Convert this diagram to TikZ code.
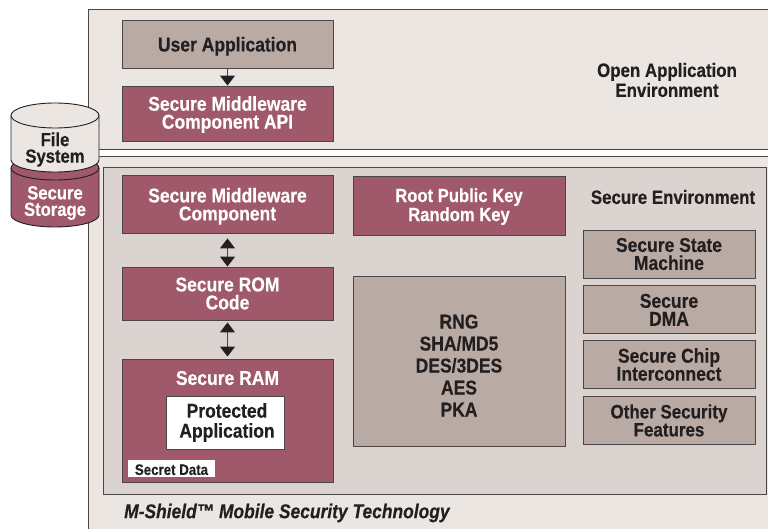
\documentclass[tikz,border=0pt]{standalone}
\usepackage{fontspec}
\setmainfont[FakeStretch=0.875,BoldFeatures={FakeBold=0.35},BoldItalicFeatures={FakeBold=0.35}]{Liberation Sans}
\usepackage{xcolor}
\usetikzlibrary{arrows.meta}
\definecolor{maroon}{HTML}{A0586B}
\definecolor{taupe}{HTML}{B9ABA4}
\definecolor{panel}{HTML}{ECE6E3}
\definecolor{inner}{HTML}{DBD3CF}
\definecolor{ink}{HTML}{231F20}
\definecolor{edge}{HTML}{4A4546}
\newcommand{\labelfont}[1]{\bfseries\fontsize{20}{#1}\selectfont}
\newcommand{\nudge}[1]{\rule{0pt}{#1pt}}
\tikzset{
    block/.style = {align=center, inner sep=0pt, draw=edge, line width=0.9pt, font=\labelfont{18}},
    redblock/.style = {block, fill=maroon, text=white},
    greyblock/.style = {block, fill=taupe, text=ink},
    sheet/.style = {draw=edge, line width=0.9pt, inner sep=0pt},
    caption/.style = {align=center, inner sep=0pt, text=ink, font=\bfseries\fontsize{19.3}{20}\selectfont},
    drum/.style = {draw=ink, line width=0.9pt},
    drumtext/.style = {align=center, inner sep=0pt, font=\bfseries\fontsize{19}{16.5}\selectfont},
    link/.style = {draw=edge, line width=1.4pt}
}
\begin{document}
\begin{tikzpicture}[x=1pt,y=-1pt,>={Triangle[width=15pt,length=10pt,color=ink]}]
    \useasboundingbox (0,0) rectangle (768,529);
    % panels
    \node [sheet, fill=panel, minimum width=682pt, minimum height=140pt] (open) at (429,79.5) {};
    \node [sheet, fill=panel, minimum width=682pt, minimum height=375pt] (lower) at (429,343.5) {};
    \node [sheet, fill=inner, minimum width=663pt, minimum height=327pt] (secure) at (434.5,330.5) {};
    % open side
    \node [greyblock, minimum width=211pt, minimum height=48pt] (user) at (227.5,44) {\nudge{19}User Application};
    \node [redblock, minimum width=211pt, minimum height=55pt] (api) at (227.5,113.5) {\nudge{16.5}Secure Middleware\\Component API};
    \node [caption] (opentitle) at (667,80) {Open Application\\Environment};
    % left column
    \node [redblock, minimum width=211pt, minimum height=58pt] (middle) at (227.5,204) {\nudge{19}Secure Middleware\\Component};
    \node [redblock, minimum width=211pt, minimum height=53pt] (rom) at (227.5,293.5) {Secure ROM\\Code};
    \node [redblock, minimum width=211pt, minimum height=123pt] (ram) at (227.5,420.5) {};
    \node [inner sep=0pt, text=white, font=\labelfont{18}] (ramtitle) at (227.5,378) {Secure RAM};
    \node [block, fill=white, text=ink, minimum width=118pt, minimum height=53pt, font=\labelfont{20}] (prot) at (225,422.5) {\hspace*{4pt}Protected\\\hspace*{4pt}Application};
    \node [fill=white, text=ink, inner sep=0pt, minimum width=87pt, minimum height=17pt, font=\bfseries\fontsize{15.2}{15}\selectfont] (secret) at (171.5,468.5) {\nudge{13}Secret Data};
    % middle column
    \node [redblock, minimum width=212pt, minimum height=59pt, font=\bfseries\fontsize{19}{19}\selectfont] (root) at (459,205.5) {\nudge{16}Root Public Key\\Random Key};
    \node [greyblock, minimum width=212pt, minimum height=170pt, font=\labelfont{22}] (algo) at (459,361) {\nudge{23}RNG\\SHA/MD5\\DES/3DES\\AES\\PKA};
    % right column
    \node [caption] (sectitle) at (673,197) {Secure Environment};
    \node [greyblock, minimum width=172pt, minimum height=48pt] (state) at (669,254) {Secure State\\Machine};
    \node [greyblock, minimum width=172pt, minimum height=48pt] (dma) at (669,309) {\nudge{15.5}Secure\\DMA};
    \node [greyblock, minimum width=172pt, minimum height=48pt] (chip) at (669,364) {\nudge{15.5}Secure Chip\\Interconnect};
    \node [greyblock, minimum width=172pt, font=\bfseries\fontsize{19.4}{18}\selectfont, minimum height=48pt] (other) at (669,420) {\nudge{15}Other Security\\Features};
    % storage
    \draw [drum, fill=maroon] (11,168) -- (11,215) arc [start angle=180, end angle=360, x radius=44pt, y radius=12pt] -- (99,168) arc [start angle=0, end angle=180, x radius=44pt, y radius=12pt] -- cycle;
    \draw [drum] (11,168) arc [start angle=180, end angle=360, x radius=44pt, y radius=12pt];
    \draw [drum, fill=panel] (11,160) -- (11,115.5) arc [start angle=180, end angle=0, x radius=44pt, y radius=12.5pt] -- (99,160) arc [start angle=0, end angle=-180, x radius=44pt, y radius=12pt] -- cycle;
    \draw [drum] (11,115.5) arc [start angle=180, end angle=360, x radius=44pt, y radius=12.5pt];
    \node [drumtext, text=ink] (filetext) at (55,149.5) {File\\System};
    \node [drumtext, text=white] (storetext) at (55,203) {Secure\\Storage};
    \node [anchor=west, inner sep=0pt, text=ink, font=\bfseries\itshape\fontsize{19.9}{20}\selectfont] (brand) at (124,513) {M-Shield\texttrademark{} Mobile Security Technology};
    % arrows
    \draw [->, link] (user) -- (api);
    \draw [<->, link, shorten <=5pt] (middle) -- (rom);
    \draw [<->, link, shorten <=2pt, shorten >=2pt] (rom) -- (ram);
\end{tikzpicture}
\end{document}
